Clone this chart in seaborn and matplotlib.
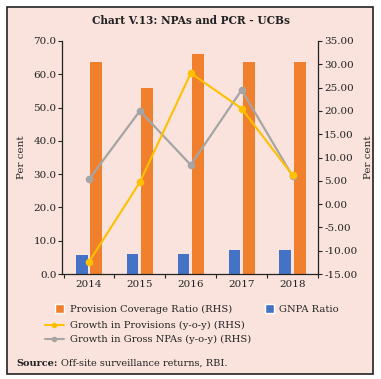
import numpy as np
import pandas as pd
import matplotlib
matplotlib.use("Agg")
import matplotlib.pyplot as plt
import seaborn as sns
from matplotlib.patches import Rectangle
from matplotlib.lines import Line2D
from matplotlib.ticker import FuncFormatter, MultipleLocator, FixedLocator

# ---- data ----
years = ["2014", "2015", "2016", "2017", "2018"]
gnpa_ratio = [5.8, 6.1, 6.1, 7.2, 7.2]
pcr = [63.7, 55.8, 66.0, 63.7, 63.7]
growth_provisions = [-12.4, 4.7, 28.1, 20.5, 6.2]
growth_gross_npas = [5.3, 20.0, 8.4, 24.5, 6.0]

title = "Chart V.13: NPAs and PCR - UCBs"
series_names = ["GNPA Ratio", "Provision Coverage Ratio (RHS)"]
line_names = ["Growth in Provisions (y-o-y) (RHS)", "Growth in Gross NPAs (y-o-y) (RHS)"]

c_blue = "#4472C4"
c_orange = "#F07F2E"
c_yellow = "#FFC000"
c_gray = "#A5A5A5"
bg = "#FAE3DC"

sns.set_theme(style="white")
plt.rcParams["font.family"] = ["DejaVu Serif"]
plt.rcParams["text.color"] = "#222222"

W, H = 381, 379
fig = plt.figure(figsize=(W / 100, H / 100), dpi=100, facecolor="white")
frame = Rectangle((7 / W, 1 - 374 / H), (373 - 7) / W, (374 - 7) / H,
                  transform=fig.transFigure, facecolor=bg,
                  edgecolor="#222222", linewidth=1.2, zorder=-10)
fig.patches.append(frame)

ax = fig.add_axes([62 / W, 1 - 274 / H, (318 - 62) / W, (274 - 41) / H])
ax.set_facecolor("none")
ax.set_zorder(1)

df = pd.DataFrame({
    "year": years * 2,
    "value": gnpa_ratio + pcr,
    "series": [series_names[0]] * len(years) + [series_names[1]] * len(years),
})
sns.barplot(data=df, x="year", y="value", hue="series", ax=ax,
            palette=[c_blue, c_orange], width=0.57, gap=0.2,
            saturation=1, legend=False, linewidth=0, edgecolor="none")

ax.set_ylim(0, 70)
ax.set_xlim(-0.53, 4.5)
ax.yaxis.set_major_locator(MultipleLocator(10))
ax.yaxis.set_major_formatter(FuncFormatter(lambda v, p: f"{v:.1f}"))
ax.set_xlabel("")
ax.set_ylabel("Per cent", fontsize=7.5, labelpad=5)
for s in ["top", "right"]:
    ax.spines[s].set_visible(False)
for s in ["left", "bottom"]:
    ax.spines[s].set_color("#222222")
    ax.spines[s].set_linewidth(0.9)
ax.tick_params(axis="y", direction="out", length=3, width=0.8, colors="#222222",
               labelsize=7.5, pad=1, left=True)
ax.tick_params(axis="x", which="major", length=0, labelsize=7.5, pad=4, colors="#222222")
ax.xaxis.set_minor_locator(FixedLocator(np.arange(-0.5, len(years), 1.0)))
ax.tick_params(axis="x", which="minor", direction="out", length=3, width=0.8,
               color="#222222", bottom=True)
ax.grid(False)

ax2 = ax.twinx()
ax2.set_facecolor("none")
ax2.set_zorder(2)
xpos = np.arange(len(years))
sns.lineplot(x=xpos, y=growth_gross_npas, ax=ax2, color=c_gray, marker="o",
             markersize=5.5, markeredgewidth=0, linewidth=1.6)
sns.lineplot(x=xpos, y=growth_provisions, ax=ax2, color=c_yellow, marker="o",
             markersize=5.5, markeredgewidth=0, linewidth=1.5)
ax2.set_ylim(-15, 35)
ax2.yaxis.set_major_locator(MultipleLocator(5))
ax2.yaxis.set_major_formatter(FuncFormatter(lambda v, p: f"{v:.2f}".replace("\u2212", "-")))
ax2.set_ylabel("Per cent", fontsize=7.5, labelpad=5)
for s in ["top", "left", "bottom"]:
    ax2.spines[s].set_visible(False)
ax2.spines["right"].set_color("#222222")
ax2.spines["right"].set_linewidth(0.9)
ax2.tick_params(axis="y", direction="out", length=3, width=0.8, colors="#222222",
                labelsize=7.5, pad=1.5, right=True)
ax2.grid(False)

fig.text(191 / W, 1 - 21 / H, title, ha="center", va="center",
         fontsize=7.6, fontweight="bold")

# legends
h1 = [Rectangle((0, 0), 1, 1, facecolor=c_orange),
      Rectangle((0, 0), 1, 1, facecolor=c_blue)]
leg1 = fig.legend(h1, [series_names[1], series_names[0]], ncol=2,
                  loc="center left", bbox_to_anchor=(55 / W, 1 - 309 / H),
                  frameon=False, fontsize=7.1, handlelength=0.95, handleheight=0.95,
                  handletextpad=0.55, columnspacing=3.3, borderaxespad=0, borderpad=0)
h2 = [Line2D([], [], color=c_yellow, marker="o", markersize=3, linewidth=1.5),
      Line2D([], [], color=c_gray, marker="o", markersize=3, linewidth=1.5)]
leg2 = fig.legend(h2, line_names, ncol=1, loc="center left",
                  bbox_to_anchor=(45 / W, 1 - 332.5 / H), frameon=False,
                  fontsize=7.1, handlelength=1.9, handletextpad=0.6,
                  labelspacing=0.5, borderaxespad=0, borderpad=0)

t1 = fig.text(16 / W, 1 - 363 / H, "Source:", fontsize=7, fontweight="bold",
              ha="left", va="center")
ax.annotate("Off-site surveillance returns, RBI.", xy=(1, 0.5), xycoords=t1,
            xytext=(2.5, 0), textcoords="offset points", fontsize=7,
            ha="left", va="center", annotation_clip=False)

fig.savefig("out.png", dpi=100, facecolor="white")
